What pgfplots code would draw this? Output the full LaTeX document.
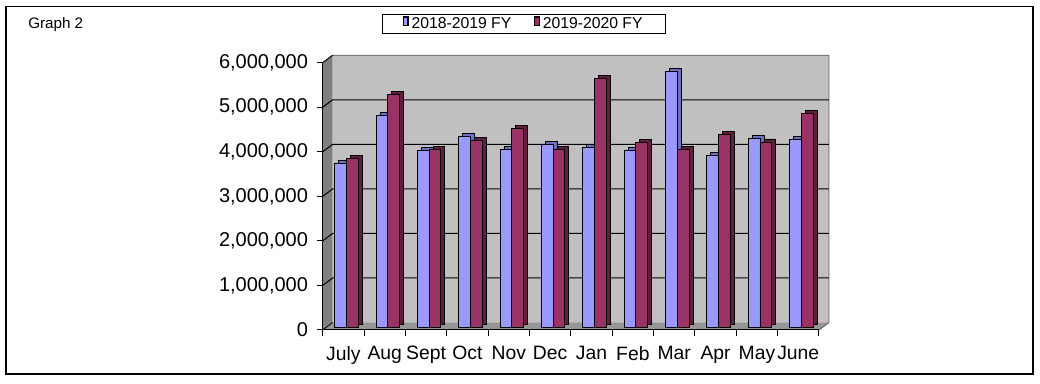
\documentclass[border=0pt]{standalone}
\usepackage{pgfplots}
\usepackage{pgfplotstable}
\pgfplotsset{compat=1.18}
\usepackage{fontspec}
\setmainfont{Liberation Sans}
\definecolor{blueF}{HTML}{9999FF}
\definecolor{blueD}{HTML}{6F6FC6}
\definecolor{redF}{HTML}{993366}
\definecolor{redD}{HTML}{5E1F3F}
\definecolor{wall}{HTML}{C0C0C0}
\definecolor{sidewall}{HTML}{808080}
\definecolor{floorc}{HTML}{969696}

\pgfplotstableread{
x a b
0 3680000 3800000
1 4760000 5230000
2 3960000 3990000
3 4280000 4200000
4 3990000 4460000
5 4100000 3990000
6 4040000 5580000
7 3960000 4150000
8 5740000 3990000
9 3850000 4330000
10 4230000 4160000
11 4220000 4800000
}\data

\begin{document}
\begin{tikzpicture}
\path (0pt,0pt) rectangle (780pt,288pt);
\draw[line width=1.1pt] (4.5pt,7.5pt) rectangle (774.75pt,283.1pt);
\node[anchor=base west, font=\fontsize{11.4}{13}\selectfont, inner sep=0] at (21pt,266.25pt) {Graph 2};
\begin{axis}[
  set layers,
  scale only axis, width=372.2pt, height=200.5pt,
  at={(242.025pt,40.5pt)}, anchor=south west,
  xmin=-0.5, xmax=11.5, ymin=0, ymax=6000000,
  axis lines*=left,
  axis line style={-, black, line width=0.75pt},
  xtick={0,...,11},
  xticklabels={July,Aug,Sept,Oct,Nov,Dec,Jan,Feb,Mar,Apr,May,June},
  major x tick style={draw=none},
  minor xtick={-0.5,0.5,...,11.5},
  minor tick length=4.5pt,
  minor x tick style={black, line width=0.75pt},
  ytick={0,1000000,...,6000000},
  major tick length=4.5pt,
  tick align=outside,
  ytick style={black, line width=0.75pt},
  scaled y ticks=false,
  yticklabel style={font=\fontsize{15}{17}\selectfont, xshift=-3pt, /pgf/number format/.cd, fixed, 1000 sep={,}, assume math mode=true},
  xticklabel style={font=\fontsize{14.5}{16}\selectfont, yshift=-4pt},
  legend columns=2,
  legend style={at={(0.4056,1.1448)}, anchor=center, draw=black, line width=0.75pt,
    font=\fontsize{11.8}{13}\selectfont, inner ysep=0.5pt, inner xsep=15pt,
    /tikz/every even column/.append style={column sep=15pt}},
  legend image code/.code={\draw[#1, draw=black, line width=1.1pt] (0pt,-3.2pt) rectangle (3.6pt,3.2pt);},
]
\begin{pgfonlayer}{axis background}
  \fill[wall] ([xshift=7.5pt,yshift=5.6pt]rel axis cs:0,0) rectangle ([xshift=7.5pt,yshift=5.6pt]rel axis cs:1,1);
  \fill[sidewall] (rel axis cs:0,0) -- (rel axis cs:0,1) -- ([xshift=7.5pt,yshift=5.6pt]rel axis cs:0,1) -- ([xshift=7.5pt,yshift=5.6pt]rel axis cs:0,0) -- cycle;
  \fill[floorc] (rel axis cs:0,0) -- (rel axis cs:1,0) -- ([xshift=7.5pt,yshift=5.6pt]rel axis cs:1,0) -- ([xshift=7.5pt,yshift=5.6pt]rel axis cs:0,0) -- cycle;
  \draw[sidewall!70!black, line width=0.6pt] ([xshift=7.5pt,yshift=5.6pt]rel axis cs:0,1) -- ([xshift=7.5pt,yshift=5.6pt]rel axis cs:1,1) -- ([xshift=7.5pt,yshift=5.6pt]rel axis cs:1,0) -- (rel axis cs:1,0);
  \pgfplotsinvokeforeach{1,2,3,4,5}{
    \draw[black, line width=0.75pt] (rel axis cs:0,#1/6) -- ([xshift=7.5pt,yshift=5.6pt]rel axis cs:0,#1/6) -- ([xshift=7.5pt,yshift=5.6pt]rel axis cs:1,#1/6);
  }
  \draw[black, line width=0.75pt] (rel axis cs:0,1) -- ([xshift=7.5pt,yshift=5.6pt]rel axis cs:0,1);
  \draw[black, line width=0.6pt] (rel axis cs:0,0) -- ([xshift=7.5pt,yshift=5.6pt]rel axis cs:0,0);
\end{pgfonlayer}
\addplot[ybar, bar width=8.8pt, bar shift=-4.4pt, fill=blueD, draw=black, line width=0.6pt, xshift=5.25pt, yshift=4.25pt, forget plot] table[x=x,y=a]{\data};
\addplot[ybar, bar width=8.8pt, bar shift=-4.4pt, fill=blueF, draw=black, line width=0.6pt, xshift=2.25pt, yshift=2pt] table[x=x,y=a]{\data};
\addplot[ybar, bar width=8.8pt, bar shift=4.4pt, fill=redD, draw=black, line width=0.6pt, xshift=5.25pt, yshift=4.25pt, forget plot] table[x=x,y=b]{\data};
\addplot[ybar, bar width=8.8pt, bar shift=4.4pt, fill=redF, draw=black, line width=0.6pt, xshift=2.25pt, yshift=2pt] table[x=x,y=b]{\data};
\legend{2018-2019 FY,2019-2020 FY}
\end{axis}
\end{tikzpicture}
\end{document}
